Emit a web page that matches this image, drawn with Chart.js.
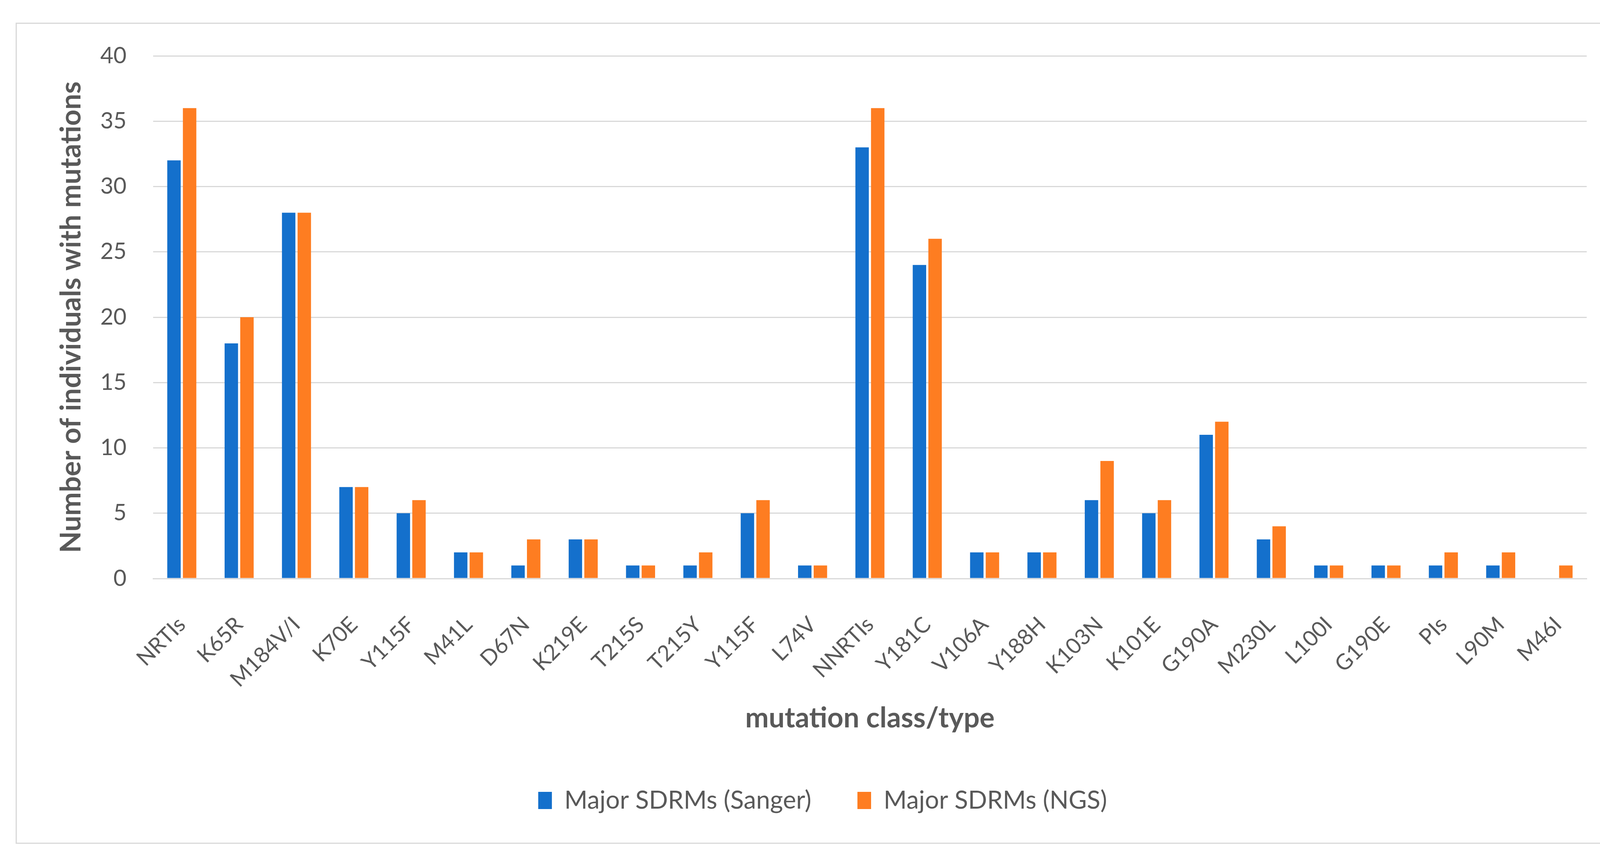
<!DOCTYPE html>
<html>
<head>
<meta charset="utf-8">
<script src="https://cdn.jsdelivr.net/npm/chart.js@4.4.1/dist/chart.umd.min.js"></script>
<style>
  html, body { margin: 0; padding: 0; background: #fff; overflow: hidden; }
  #frame {
    position: absolute; left: 40px; top: 58px;
    width: 4103px; height: 2096px;
    border: 3px solid #d9d9d9;
  }
  #wrap { position: absolute; left: 0; top: 0; width: 4172px; height: 2204px; }
  #wrap canvas { display: block; }
</style>
</head>
<body>
<div id="frame"></div>
<div id="wrap"><canvas id="chart1"></canvas></div>
<script>
// categories and values
var categories = ['NRTIs', 'K65R', 'M184V/I', 'K70E', 'Y115F', 'M41L', 'D67N', 'K219E', 'T215S', 'T215Y', 'Y115F', 'L74V',
  'NNRTIs', 'Y181C', 'V106A', 'Y188H', 'K103N', 'K101E', 'G190A', 'M230L', 'L100I', 'G190E', 'PIs', 'L90M', 'M46I'];
var sanger = [32, 18, 28, 7, 5, 2, 1, 3, 1, 1, 5, 1, 33, 24, 2, 2, 6, 5, 11, 3, 1, 1, 1, 1, 0];
var ngs    = [36, 20, 28, 7, 6, 2, 3, 3, 1, 2, 6, 1, 36, 26, 2, 2, 9, 6, 12, 4, 1, 1, 2, 2, 1];
var yTicks = [0, 5, 10, 15, 20, 25, 30, 35, 40];

Chart.defaults.font.family = 'Lato, "Open Sans", sans-serif';
Chart.defaults.color = '#595959';

var ctx = document.getElementById('chart1').getContext('2d');
var myChart = new Chart(ctx, {
  type: 'bar',
  data: {
    labels: categories,
    datasets: [{
      label: 'Major SDRMs (Sanger)',
      data: sanger,
      backgroundColor: '#1470cc',
      borderWidth: 0
    },
    {
      label: 'Major SDRMs (NGS)',
      data: ngs,
      backgroundColor: '#fe7d21',
      borderWidth: 0
    }]
  },
  options: {
    responsive: true,
    maintainAspectRatio: false,
    animation: false,
    devicePixelRatio: 1,
    barPercentage: 0.86,
    categoryPercentage: 0.545,
    layout: {
      padding: { left: 40, right: 0, top: 143, bottom: 113 }
    },
    plugins: {
      legend: {
        position: 'bottom',
        maxHeight: 200,
        labels: {
          font: { size: 64 },
          boxWidth: 35,
          boxHeight: 44,
          padding: 118,
          color: '#595959'
        }
      },
      tooltip: { enabled: false }
    },
    scales: {
      x: {
        grid: { display: false, drawTicks: false },
        border: { display: true, color: '#d9d9d9', width: 3 },
        afterFit: function(scale) {
          scale.paddingLeft = 0;
          scale.paddingRight = 0;
          scale.height = 418;
        },
        ticks: {
          font: { size: 56 },
          minRotation: 45,
          maxRotation: 45,
          autoSkip: false,
          padding: 85,
          color: '#595959'
        },
        title: {
          display: true,
          text: 'mutation class/type',
          font: { size: 72, weight: 'bold' },
          color: '#595959',
          padding: { top: 60, bottom: 17 }
        }
      },
      y: {
        min: 0,
        max: 40,
        afterBuildTicks: function(scale) {
          scale.ticks = yTicks.map(function(v) { return { value: v }; });
        },
        afterFit: function(scale) {
          scale.width = 352;
        },
        grid: { color: '#d9d9d9', lineWidth: 3, drawTicks: false },
        border: { display: false },
        ticks: {
          font: { size: 58 },
          padding: 68,
          color: '#595959'
        },
        title: {
          display: true,
          text: 'Number of individuals with mutations',
          font: { size: 72, weight: 'bold' },
          color: '#595959',
          padding: 100
        }
      },
      // empty right-hand axis, only keeps space on the right of the plot
      yRight: {
        position: 'right',
        grid: { display: false, drawTicks: false },
        border: { display: false },
        ticks: { display: false },
        afterFit: function(scale) {
          scale.width = 110;
        }
      }
    }
  }
});
</script>
</body>
</html>
